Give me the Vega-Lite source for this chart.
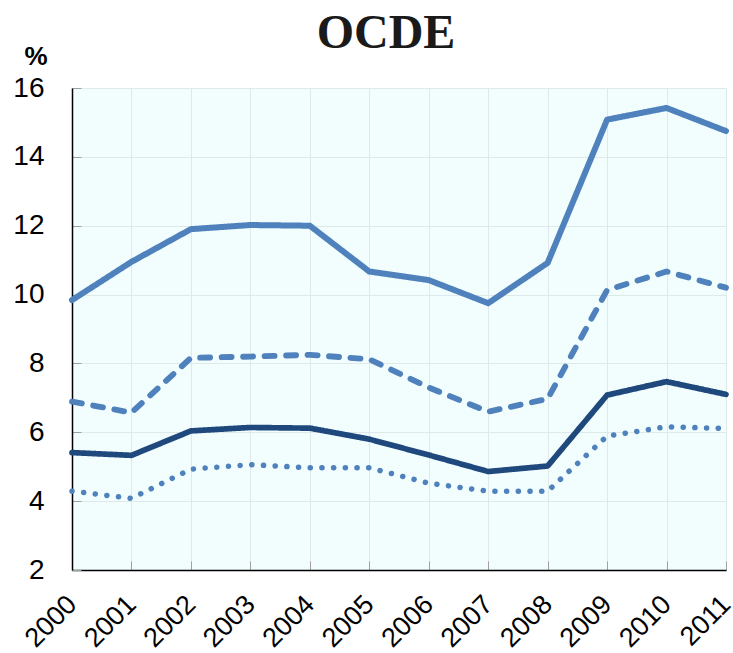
{
  "$schema": "https://vega.github.io/schema/vega-lite/v6.json",
  "autosize": "none",
  "width": 654,
  "height": 482,
  "padding": {"left": 72, "top": 88, "right": 7, "bottom": 83},
  "background": "#ffffff",
  "view": {"fill": "#f2fefe", "stroke": null},
  "title": {
    "text": "OCDE",
    "font": "Liberation Serif",
    "fontSize": 48,
    "fontWeight": "bold",
    "color": "#1a1a1a",
    "anchor": "middle",
    "frame": "group",
    "dx": -13,
    "baseline": "alphabetic",
    "offset": -53
  },
  "data": {
    "values": [
      {"year": "2000", "series": "A", "value": 9.84},
      {"year": "2001", "series": "A", "value": 10.95},
      {"year": "2002", "series": "A", "value": 11.9},
      {"year": "2003", "series": "A", "value": 12.02},
      {"year": "2004", "series": "A", "value": 12.0},
      {"year": "2005", "series": "A", "value": 10.67},
      {"year": "2006", "series": "A", "value": 10.42},
      {"year": "2007", "series": "A", "value": 9.75},
      {"year": "2008", "series": "A", "value": 10.92},
      {"year": "2009", "series": "A", "value": 15.08},
      {"year": "2010", "series": "A", "value": 15.42},
      {"year": "2011", "series": "A", "value": 14.75},
      {"year": "2000", "series": "B", "value": 6.89},
      {"year": "2001", "series": "B", "value": 6.57},
      {"year": "2002", "series": "B", "value": 8.16},
      {"year": "2003", "series": "B", "value": 8.2},
      {"year": "2004", "series": "B", "value": 8.25},
      {"year": "2005", "series": "B", "value": 8.12},
      {"year": "2006", "series": "B", "value": 7.3},
      {"year": "2007", "series": "B", "value": 6.6},
      {"year": "2008", "series": "B", "value": 6.97},
      {"year": "2009", "series": "B", "value": 10.13},
      {"year": "2010", "series": "B", "value": 10.67},
      {"year": "2011", "series": "B", "value": 10.2},
      {"year": "2000", "series": "C", "value": 5.41},
      {"year": "2001", "series": "C", "value": 5.33},
      {"year": "2002", "series": "C", "value": 6.04},
      {"year": "2003", "series": "C", "value": 6.14},
      {"year": "2004", "series": "C", "value": 6.12},
      {"year": "2005", "series": "C", "value": 5.8},
      {"year": "2006", "series": "C", "value": 5.34},
      {"year": "2007", "series": "C", "value": 4.86},
      {"year": "2008", "series": "C", "value": 5.02},
      {"year": "2009", "series": "C", "value": 7.08},
      {"year": "2010", "series": "C", "value": 7.47},
      {"year": "2011", "series": "C", "value": 7.1},
      {"year": "2000", "series": "D", "value": 4.29},
      {"year": "2001", "series": "D", "value": 4.08},
      {"year": "2002", "series": "D", "value": 4.93},
      {"year": "2003", "series": "D", "value": 5.06},
      {"year": "2004", "series": "D", "value": 4.97},
      {"year": "2005", "series": "D", "value": 4.97},
      {"year": "2006", "series": "D", "value": 4.52},
      {"year": "2007", "series": "D", "value": 4.29},
      {"year": "2008", "series": "D", "value": 4.29},
      {"year": "2009", "series": "D", "value": 5.89},
      {"year": "2010", "series": "D", "value": 6.16},
      {"year": "2011", "series": "D", "value": 6.11}
    ]
  },
  "mark": {"type": "line", "strokeCap": "round", "strokeJoin": "round", "clip": false},
  "encoding": {
    "x": {
      "field": "year",
      "type": "ordinal",
      "scale": {"type": "point", "padding": 0},
      "axis": {
        "title": null,
        "domainColor": "#000000",
        "domainWidth": 1.5,
        "grid": true,
        "gridColor": "#dfe9e9",
        "gridWidth": 1,
        "ticks": true,
        "tickColor": "#a0a0a0",
        "tickSize": -9,
        "labelAngle": -45,
        "labelAlign": "right",
        "labelBaseline": "middle",
        "labelPadding": 39,
        "labelFont": "Liberation Sans",
        "labelFontSize": 27,
        "labelColor": "#000000"
      }
    },
    "y": {
      "field": "value",
      "type": "quantitative",
      "scale": {"domain": [2, 16], "nice": false, "zero": false},
      "axis": {
        "values": [2, 4, 6, 8, 10, 12, 14, 16],
        "title": "%",
        "titleAngle": 0,
        "titleX": -25,
        "titleY": -32,
        "titleAlign": "right",
        "titleBaseline": "middle",
        "titleFont": "Liberation Sans",
        "titleFontSize": 26,
        "titleFontWeight": "bold",
        "titleColor": "#000000",
        "domainColor": "#000000",
        "domainWidth": 1.5,
        "grid": true,
        "gridColor": "#dfe9e9",
        "gridWidth": 1,
        "ticks": true,
        "tickColor": "#a0a0a0",
        "tickSize": -9,
        "labelPadding": 37,
        "labelFont": "Liberation Sans",
        "labelFontSize": 28,
        "labelColor": "#000000"
      }
    },
    "color": {
      "field": "series",
      "type": "nominal",
      "scale": {"domain": ["A", "B", "C", "D"], "range": ["#4f81bd", "#4f81bd", "#1f497d", "#4f81bd"]},
      "legend": null
    },
    "strokeDash": {
      "field": "series",
      "type": "nominal",
      "scale": {"domain": ["A", "B", "C", "D"], "range": [[1, 0], [10, 11.5], [1, 0], [0.1, 11.6]]},
      "legend": null
    },
    "size": {
      "field": "series",
      "type": "nominal",
      "scale": {"domain": ["A", "B", "C", "D"], "range": [6, 5.5, 6.5, 5.5]},
      "legend": null
    }
  }
}
